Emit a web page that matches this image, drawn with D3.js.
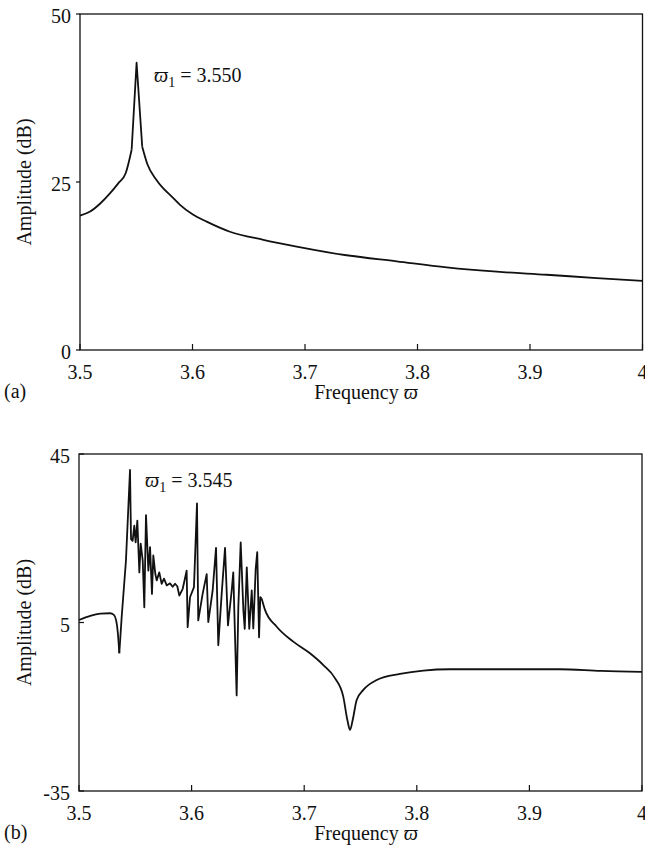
<!DOCTYPE html>
<html lang="en">
<head>
<meta charset="UTF-8">
<title>Amplitude vs Frequency</title>
<script src="https://d3js.org/d3.v7.min.js"></script>
<style>
    body { margin: 0; background: #fff; }
    svg { display: block; }
    text { font-family: "Liberation Serif", "Times New Roman", "DejaVu Serif", serif; font-size: 20px; fill: #111; }
    .frame { fill: none; stroke: #111; stroke-width: 1.3; }
    .curve { fill: none; stroke: #111; stroke-width: 1.8; stroke-linejoin: round; }
    .tick-mark { stroke: #111; stroke-width: 1.2; }
</style>
</head>
<body>
<div id="chart"></div>
<script>

const xTicks = [3.5, 3.6, 3.7, 3.8, 3.9, 4];

// panel (a)
const yTicksA = [0, 25, 50];
const freqA = [3.5, 3.509, 3.518, 3.5266, 3.534, 3.5406, 3.5459, 3.5503, 3.5553, 3.56, 3.568,
    3.5829, 3.5889, 3.6, 3.6126, 3.6333, 3.663, 3.6926, 3.737, 3.7815, 3.8259, 3.8704,
    3.9148, 3.9593, 4.0];
const ampA = [20.0, 20.6, 21.8, 23.3, 24.8, 26.3, 29.8, 42.75, 30.25, 27.6, 25.3,
    22.6, 21.6, 20.2, 19.1, 17.6, 16.4, 15.4, 14.1, 13.2, 12.3, 11.65,
    11.2, 10.7, 10.3];

// panel (b)
const yTicksB = [-35, 5, 45];
const freqB = [3.5, 3.51, 3.519, 3.5275, 3.531, 3.533, 3.5345, 3.5358, 3.5379, 3.5417,
    3.5453, 3.5462, 3.5476, 3.5491, 3.5503, 3.5518, 3.5536, 3.5548, 3.5566, 3.558,
    3.5595, 3.5616, 3.5631, 3.5648, 3.566, 3.5678, 3.569, 3.5713, 3.5734, 3.5755,
    3.5779, 3.5808, 3.5832, 3.5853, 3.5873, 3.5891, 3.5921, 3.5956, 3.5965, 3.5986,
    3.6021, 3.6048, 3.6059, 3.6098, 3.6134, 3.6148, 3.6187, 3.6217, 3.6237, 3.6267,
    3.6297, 3.6323, 3.6356, 3.637, 3.64, 3.6415, 3.6436, 3.646, 3.6472, 3.649,
    3.6512, 3.6534, 3.6548, 3.6569, 3.6583, 3.6599, 3.661, 3.6622, 3.6652, 3.6756,
    3.6903, 3.7051, 3.717, 3.7273, 3.7347, 3.7383, 3.7407, 3.7431, 3.7466, 3.7525,
    3.7644, 3.7851, 3.8058, 3.8295, 3.8739, 3.927, 3.9635, 4.0];
const ampB = [5.6, 6.6, 7.1, 7.2, 6.8, 5.5, 2.5, -2.3, 6.3, 19.7,
    41.2, 24.8, 24.4, 28.0, 24.0, 29.2, 16.9, 23.7, 19.7, 8.6,
    30.5, 17.3, 22.9, 11.8, 20.9, 16.5, 15.0, 16.9, 14.2, 15.4,
    13.8, 14.3, 13.5, 14.2, 13.6, 11.4, 13.0, 17.3, 3.9, 11.0,
    13.4, 33.3, 5.5, 11.8, 16.5, 5.1, 12.6, 22.7, -0.4, 11.8,
    22.7, 4.3, 12.6, 16.9, -12.3, 8.6, 24.0, 7.8, 3.5, 18.1,
    3.5, 12.6, 3.6, 17.7, 21.7, 1.5, 11.0, 10.7, 8.0, 4.0,
    0.45, -2.3, -5.1, -8.2, -12.6, -18.1, -20.5, -18.1, -13.4, -11.0,
    -8.65, -7.2, -6.4, -6.1, -6.1, -6.1, -6.5, -6.7];

const svg = d3.select("#chart")
    .append("svg")
    .attr("width", 645)
    .attr("height", 855);

function drawPanel(cfg) {
    const x = d3.scaleLinear().domain([3.5, 4]).range([cfg.left, cfg.right]);
    const y = d3.scaleLinear().domain(d3.extent(cfg.yTicks)).range([cfg.bottom, cfg.top]);
    const g = svg.append("g");

    // x ticks, pointing into the plot
    g.selectAll(".xt").data(xTicks).enter().append("line")
        .attr("class", "tick-mark")
        .attr("x1", d => x(d)).attr("x2", d => x(d))
        .attr("y1", cfg.bottom).attr("y2", cfg.bottom - 6);

    g.selectAll(".xl").data(xTicks).enter().append("text")
        .attr("x", d => x(d))
        .attr("y", cfg.bottom + 29)
        .attr("text-anchor", "middle")
        .text(d => d === 4 ? "4" : d.toFixed(1));

    // y ticks
    g.selectAll(".yt").data(cfg.yTicks).enter().append("line")
        .attr("class", "tick-mark")
        .attr("x1", cfg.left).attr("x2", cfg.left + cfg.yTickLen)
        .attr("y1", d => y(d)).attr("y2", d => y(d));

    g.selectAll(".yl").data(cfg.yTicks).enter().append("text")
        .attr("x", cfg.left - 9)
        .attr("y", d => y(d) + 9)
        .attr("text-anchor", "end")
        .text(d => d);

    g.append("rect")
        .attr("class", "frame")
        .attr("x", cfg.left).attr("y", cfg.top)
        .attr("width", cfg.right - cfg.left)
        .attr("height", cfg.bottom - cfg.top);

    const pts = cfg.freq.map((f, i) => [f, cfg.amp[i]]);
    // each piece: [first index, last index, curve]
    cfg.pieces.forEach(([a, b, curve]) => {
        const line = d3.line()
            .x(d => x(d[0]))
            .y(d => y(d[1]))
            .curve(curve);
        g.append("path")
            .datum(pts.slice(a, b + 1))
            .attr("class", "curve")
            .attr("d", line);
    });

    // axis titles
    g.append("text")
        .attr("transform", `translate(31, ${(cfg.top + cfg.bottom) / 2}) rotate(-90)`)
        .attr("text-anchor", "middle")
        .text("Amplitude (dB)");

    const xt = g.append("text")
        .attr("x", 366)
        .attr("y", cfg.bottom + 49)
        .attr("text-anchor", "middle");
    xt.append("tspan").text("Frequency ");
    xt.append("tspan").attr("font-style", "italic").text("\u03d6");

    g.append("text")
        .attr("x", 4)
        .attr("y", cfg.bottom + 48)
        .text(cfg.tag);

    // peak annotation
    const ann = g.append("text")
        .attr("x", cfg.annX)
        .attr("y", cfg.annY);
    ann.append("tspan").attr("font-style", "italic").text("\u03d6");
    ann.append("tspan").attr("dy", 5).style("font-size", "14px").text("1");
    ann.append("tspan").attr("dy", -5).text(" = " + cfg.annValue);
}

drawPanel({
    left: 80, right: 642.5, top: 14, bottom: 350,
    yTicks: yTicksA, yTickLen: -4,
    freq: freqA, amp: ampA,
    pieces: [[0, 6, d3.curveMonotoneX], [6, 8, d3.curveLinear], [8, freqA.length - 1, d3.curveMonotoneX]],
    tag: "(a)", annX: 154, annY: 82, annValue: "3.550"
});

drawPanel({
    left: 79, right: 642, top: 454, bottom: 791,
    yTicks: yTicksB, yTickLen: 5,
    freq: freqB, amp: ampB,
    pieces: [[0, 7, d3.curveMonotoneX], [7, 67, d3.curveLinear], [67, freqB.length - 1, d3.curveMonotoneX]],
    tag: "(b)", annX: 145, annY: 487, annValue: "3.545"
});
</script>
</body>
</html>
